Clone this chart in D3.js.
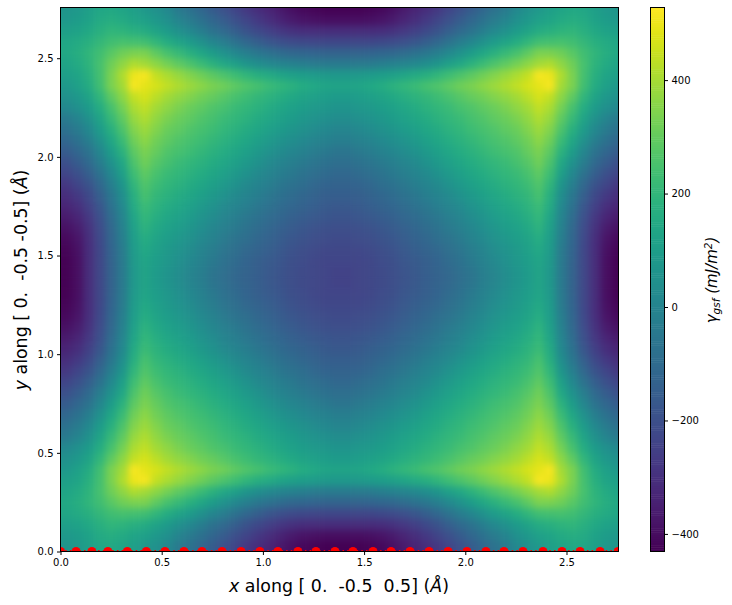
<!DOCTYPE html>
<html><head><meta charset="utf-8">
<script src="https://cdnjs.cloudflare.com/ajax/libs/d3/7.8.5/d3.min.js"></script>
<style>html,body{margin:0;background:#fff}svg{display:block}text{font-family:"DejaVu Sans",sans-serif;fill:#000}</style>
</head><body><svg id="c" width="732" height="605"></svg>
<script>
// gamma-surface values for one quadrant of the periodic cell (the picture is mirror symmetric), mJ/m2
const quadrant = [
[70,80,105,135,145,130,105,80,50,15,-40,-75,-115,-155,-195,-235,-275,-305,-335,-365,-390,-410,-420,-430,-430],
[80,95,120,150,165,150,130,110,80,45,0,-35,-75,-115,-155,-195,-235,-270,-305,-335,-360,-380,-390,-395,-395],
[105,120,145,175,195,190,175,155,125,90,50,15,-25,-65,-105,-145,-185,-220,-250,-275,-295,-305,-310,-310,-310],
[135,150,175,205,235,245,240,235,195,160,125,90,50,10,-30,-70,-110,-145,-175,-195,-210,-220,-225,-225,-225],
[145,165,195,235,280,315,335,335,290,245,210,175,135,95,55,15,-20,-50,-75,-95,-110,-120,-125,-130,-130],
[130,150,190,245,315,365,410,395,360,325,290,255,220,180,140,105,70,40,15,0,-15,-25,-35,-40,-40],
[105,130,175,240,335,410,500,515,440,405,375,345,315,285,255,225,195,170,150,130,110,100,90,85,80],
[80,110,155,235,335,395,515,490,465,435,410,385,360,335,315,290,265,245,220,200,180,160,145,130,125],
[50,80,125,195,290,360,440,465,430,395,370,345,320,300,275,250,225,205,185,165,145,125,110,100,90],
[15,45,90,160,245,325,405,435,395,365,335,310,290,265,245,220,200,180,155,135,115,100,85,75,65],
[-40,0,50,125,210,290,375,410,370,335,310,290,265,245,220,200,180,155,135,115,95,75,60,45,35],
[-75,-35,15,90,175,255,345,385,345,310,290,265,245,225,200,180,155,135,110,90,70,50,30,15,5],
[-115,-75,-25,50,135,220,315,360,320,290,265,245,225,205,180,160,135,110,85,60,40,20,0,-15,-25],
[-155,-115,-65,10,95,180,285,335,300,265,245,225,205,180,160,135,110,85,55,30,10,-10,-30,-45,-60],
[-195,-155,-105,-30,55,140,255,315,275,245,220,200,180,160,135,110,85,55,25,0,-20,-40,-60,-75,-85],
[-235,-195,-145,-70,15,105,225,290,250,220,200,180,160,135,110,85,55,25,0,-25,-45,-65,-85,-100,-110],
[-275,-235,-185,-110,-20,70,195,265,225,200,180,155,135,110,85,55,25,0,-25,-50,-70,-90,-110,-125,-130],
[-305,-270,-220,-145,-50,40,170,245,205,180,155,135,110,85,55,25,0,-25,-50,-75,-95,-115,-130,-145,-150],
[-335,-305,-250,-175,-75,15,150,220,185,155,135,110,85,55,25,0,-25,-50,-75,-100,-120,-135,-150,-165,-170],
[-365,-335,-275,-195,-95,0,130,200,165,135,115,90,60,30,0,-25,-50,-75,-100,-120,-140,-155,-170,-180,-185],
[-390,-360,-295,-210,-110,-15,110,180,145,115,95,70,40,10,-20,-45,-70,-95,-120,-140,-160,-175,-190,-200,-205],
[-410,-380,-305,-220,-120,-25,100,160,125,100,75,50,20,-10,-40,-65,-90,-115,-135,-155,-175,-190,-205,-210,-215],
[-420,-390,-310,-225,-125,-35,90,145,110,85,60,30,0,-30,-60,-85,-110,-130,-150,-170,-190,-205,-215,-225,-225],
[-430,-395,-310,-225,-130,-40,85,130,100,75,45,15,-15,-45,-75,-100,-125,-145,-165,-180,-200,-210,-225,-235,-235],
[-430,-395,-310,-225,-130,-40,80,125,90,65,35,5,-25,-60,-85,-110,-130,-150,-170,-185,-205,-215,-225,-235,-240]
];
const atomX = [0,0.077,0.155,0.234,0.33,0.424,0.516,0.61,0.699,0.798,0.892,0.985,1.074,1.173,1.262,1.356,1.445,1.544,1.633,1.727,1.821,1.915,2.008,2.102,2.191,2.285,2.384,2.478,2.567,2.666,2.755];
const xTicks = [0,0.5,1,1.5,2,2.5];
const yTicks = [0,0.5,1,1.5,2,2.5];
const cbTicks = [-400,-200,0,200,400];

const L=60.5,R=618.5,T=7.5,B=551.5,MAX=2.757,PERIOD=2.78;
const CL=650.5,CR=664.5,VMIN=-431,VMAX=528;
const svg=d3.select("#c");
const x=d3.scaleLinear([0,MAX],[L,R]), y=d3.scaleLinear([0,MAX],[B,T]);
const color=d3.scaleSequential(d3.interpolateViridis).domain([VMIN,VMAX]);
const cb=d3.scaleLinear([VMIN,VMAX],[B,T]);
const full=[...quadrant.map(r=>[...r,...r.slice().reverse()])];
const rows=[...full,...full.slice().reverse()];
const n=rows.length;
const bx=d3.scaleBand(d3.range(n),[x(0),x(PERIOD)]), by=d3.scaleBand(d3.range(n),[y(0),y(PERIOD)]);
const cells=rows.flatMap((r,j)=>r.map((v,i)=>({i,j,v})));
const defs=svg.append("defs");
defs.append("clipPath").attr("id","ax").append("rect").attr("x",L).attr("y",T).attr("width",R-L).attr("height",B-T);
defs.append("filter").attr("id","soft").attr("filterUnits","userSpaceOnUse").attr("x",0).attr("y",-40).attr("width",732).attr("height",660)
  .attr("color-interpolation-filters","sRGB").append("feGaussianBlur").attr("stdDeviation",3.5);
const pad=20;
const gc=svg.append("g").attr("clip-path","url(#ax)").append("g").attr("filter","url(#soft)");
gc.selectAll("rect").data(cells).join("rect")
 .attr("x",d=>bx(d.i)-(d.i==0?pad:0))
 .attr("y",d=>by(d.j)-(d.j==n-1?pad:0))
 .attr("width",d=>bx.bandwidth()+(d.i==0||d.i==n-1?pad:0)+0.5)
 .attr("height",d=>by.bandwidth()+(d.j==0||d.j==n-1?pad:0)+0.5)
 .attr("fill",d=>color(d.v));
// atoms
const ga=svg.append("g").attr("clip-path","url(#ax)");
ga.append("line").attr("x1",L).attr("x2",R).attr("y1",y(0)).attr("y2",y(0)).attr("stroke","#f00").attr("stroke-width",3).attr("stroke-dasharray","1.5 3.2");
ga.selectAll("circle").data(atomX).join("circle").attr("cx",d=>x(d)).attr("cy",y(0)).attr("r",4.5).attr("fill","#f00");
// frames
const frame=(a,b)=>svg.append("rect").attr("x",a).attr("y",T).attr("width",b-a).attr("height",B-T).attr("fill","none").attr("stroke","#000").attr("stroke-width",1);
frame(L,R);
// colorbar
const gb=svg.append("g");
const steps=d3.range(256);
gb.selectAll("rect").data(steps).join("rect").attr("x",CL).attr("width",CR-CL)
 .attr("y",d=>cb(VMIN+(d+1)*(VMAX-VMIN)/256)).attr("height",(B-T)/256+0.5)
 .attr("fill",d=>color(VMIN+(d+.5)*(VMAX-VMIN)/256));
frame(CL,CR);
// axes
const style=g=>{g.select(".domain").remove();g.selectAll("line").attr("stroke","#000");g.selectAll("text").style("font-size","10px").style("font-family",'"DejaVu Sans"').attr("fill","#000");};
svg.append("g").attr("transform",`translate(0,${B})`).call(d3.axisBottom(x).tickValues(xTicks).tickSize(3.5).tickPadding(3.5).tickFormat(d3.format(".1f"))).call(style);
svg.append("g").attr("transform",`translate(${L},0)`).call(d3.axisLeft(y).tickValues(yTicks).tickSize(3.5).tickPadding(3.5).tickFormat(d3.format(".1f"))).call(style);
svg.append("g").attr("transform",`translate(${CR},0)`).call(d3.axisRight(cb).tickValues(cbTicks).tickSize(3.5).tickPadding(3.5).tickFormat(d=>String(d).replace("-","\u2212"))).call(style);
// labels
const axisText=(sel,sym,txt)=>{sel.append("tspan").style("font-style","italic").text(sym);sel.append("tspan").text(" along "+txt+" (");sel.append("tspan").style("font-style","italic").text("Å");sel.append("tspan").text(")");};
const lx=svg.append("text").attr("x",339).attr("y",592).attr("text-anchor","middle").style("font-size","17.4px").attr("xml:space","preserve");
axisText(lx,"x","[ 0.  -0.5  0.5]");
const ly=svg.append("text").attr("transform","translate(27,280) rotate(-90)").attr("text-anchor","middle").style("font-size","17.4px").attr("xml:space","preserve");
axisText(ly,"y","[ 0.  -0.5 -0.5]");
const lc=svg.append("text").attr("transform","translate(717,280) rotate(-90)").attr("text-anchor","middle").style("font-size","15px").style("font-style","italic");
lc.append("tspan").text("γ");lc.append("tspan").attr("dy",3).style("font-size","10.5px").text("gsf");
lc.append("tspan").attr("dy",-3).text(" (mJ/m");lc.append("tspan").attr("dy",-5).style("font-size","10.5px").text("2");lc.append("tspan").attr("dy",5).text(")");
</script></body></html>
